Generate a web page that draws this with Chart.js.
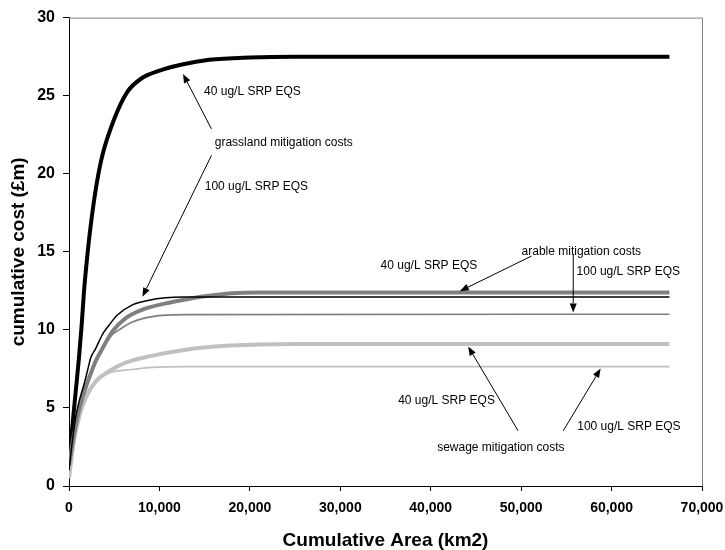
<!DOCTYPE html>
<html>
<head>
<meta charset="utf-8">
<script src="https://cdn.jsdelivr.net/npm/chart.js@4"></script>
<style>
  body { margin: 0; background: #fff; }
  canvas { display: block; }
</style>
</head>
<body>
<canvas id="costChart" width="725" height="550"></canvas>
<script>
/* Cumulative mitigation cost vs cumulative area
 * each scenario: area (km2) and cost (£m)
 */
const grass40Area = [0, 400, 750, 1100, 1400, 1650, 2000, 2300, 2700, 3100, 3700, 5000, 6400, 8000, 10000, 12500, 15500, 20000, 25000, 66400];
const grass40Cost = [1.5, 4.0, 6.1, 8.2, 10.3, 12.4, 14.6, 16.2, 18.0, 19.5, 21.2, 23.5, 25.2, 26.1, 26.6, 27.0, 27.3, 27.45, 27.5, 27.5];

const grass100Area = [0, 375, 740, 1110, 1660, 2030, 2400, 2950, 3690, 4430, 5350, 7010, 8850, 10700, 12600, 66400];
const grass100Cost = [1.0, 2.9, 4.4, 5.4, 6.5, 7.35, 8.2, 8.8, 9.7, 10.3, 10.95, 11.6, 11.9, 12.05, 12.1, 12.1];

const arable40Area = [0, 375, 930, 1480, 2210, 2950, 3690, 4800, 6270, 8120, 10700, 12900, 15000, 18000, 21000, 66400];
const arable40Cost = [1.3, 2.7, 4.4, 5.65, 6.9, 8.0, 8.8, 9.9, 10.75, 11.3, 11.7, 11.95, 12.15, 12.35, 12.4, 12.4];

const arable100Area = [0, 375, 930, 1480, 2210, 2950, 3690, 4800, 5530, 7010, 9230, 12900, 66400];
const arable100Cost = [1.3, 2.7, 4.4, 5.6, 6.85, 7.95, 8.75, 9.7, 10.0, 10.5, 10.85, 10.97, 11.0];

const sewage40Area = [0, 550, 1110, 1850, 2950, 4430, 6270, 8850, 12900, 17400, 21000, 25000, 66400];
const sewage40Cost = [0.5, 2.9, 4.4, 5.65, 6.7, 7.35, 7.9, 8.3, 8.73, 8.98, 9.06, 9.1, 9.1];

const sewage100Area = [0, 550, 1110, 1850, 2950, 4430, 7010, 9230, 12900, 66400];
const sewage100Cost = [0.5, 2.8, 4.3, 5.5, 6.6, 7.24, 7.46, 7.6, 7.65, 7.65];

const xTicksMax = 70000;
const yTicksMax = 30;

// annotation labels and arrows, in data units (area, cost)
const noteTexts = ['40 ug/L SRP EQS', 'grassland mitigation costs', '100 ug/L SRP EQS',
  'arable mitigation costs', '40 ug/L SRP EQS', '100 ug/L SRP EQS',
  '40 ug/L SRP EQS', '100 ug/L SRP EQS', 'sewage mitigation costs'];
const noteAreas = [14935, 16120, 15010, 50050, 34450, 56130, 36400, 56200, 40710];
const noteCosts = [25.23, 21.98, 19.18, 14.98, 14.14, 13.72, 5.44, 3.79, 2.47];

const arrowFrom = [[15750, 22.87], [15750, 21.17], [51160, 14.73], [55760, 14.81], [49670, 3.53], [54650, 3.53]];
const arrowTo = [[12610, 26.39], [8120, 12.12], [43220, 12.48], [55760, 11.12], [44140, 8.94], [58790, 7.52]];

function pts(xs, ys) {
  return xs.map((x, i) => ({x: x, y: ys[i]}));
}

function series(label, xs, ys, color, width) {
  return {
    label: label,
    data: pts(xs, ys),
    borderColor: color,
    backgroundColor: color,
    borderWidth: width,
    pointRadius: 0,
    fill: false,
    cubicInterpolationMode: 'monotone'
  };
}

// gray frame on top and right, like the original
const framePlugin = {
  id: 'frame',
  beforeDatasetsDraw(chart) {
    const {ctx, chartArea: a} = chart;
    ctx.save();
    ctx.strokeStyle = '#808080';
    ctx.lineWidth = 1;
    ctx.beginPath();
    ctx.moveTo(a.left, a.top + 0.5);
    ctx.lineTo(a.right + 0.5, a.top + 0.5);
    ctx.lineTo(a.right + 0.5, a.bottom);
    ctx.stroke();
    ctx.restore();
  }
};

const notesPlugin = {
  id: 'notes',
  afterDatasetsDraw(chart) {
    const ctx = chart.ctx;
    const xs = chart.scales.x;
    const ys = chart.scales.y;
    ctx.save();
    ctx.fillStyle = '#000';
    ctx.font = '12px "Liberation Sans", Arial, sans-serif';
    ctx.textAlign = 'left';
    ctx.textBaseline = 'middle';
    noteTexts.forEach((t, i) => {
      ctx.fillText(t, xs.getPixelForValue(noteAreas[i]), ys.getPixelForValue(noteCosts[i]));
    });

    ctx.strokeStyle = '#000';
    ctx.lineWidth = 1;
    arrowFrom.forEach((f, i) => {
      const x1 = xs.getPixelForValue(f[0]), y1 = ys.getPixelForValue(f[1]);
      const x2 = xs.getPixelForValue(arrowTo[i][0]), y2 = ys.getPixelForValue(arrowTo[i][1]);
      const ang = Math.atan2(y2 - y1, x2 - x1);
      const head = 9, half = 3.5;
      const bx = x2 - head * Math.cos(ang), by = y2 - head * Math.sin(ang);
      ctx.beginPath();
      ctx.moveTo(x1, y1);
      ctx.lineTo(bx, by);
      ctx.stroke();
      ctx.beginPath();
      ctx.moveTo(x2, y2);
      ctx.lineTo(bx + half * Math.sin(ang), by - half * Math.cos(ang));
      ctx.lineTo(bx - half * Math.sin(ang), by + half * Math.cos(ang));
      ctx.closePath();
      ctx.fill();
    });
    ctx.restore();
  }
};

const ctx = document.getElementById('costChart');
new Chart(ctx, {
  type: 'line',
  data: {
    datasets: [
      series('grassland 100', grass100Area, grass100Cost, '#000000', 1.5),
      series('arable 100', arable100Area, arable100Cost, '#7f7f7f', 1.7),
      series('arable 40', arable40Area, arable40Cost, '#808080', 4),
      series('sewage 100', sewage100Area, sewage100Cost, '#c0c0c0', 1.7),
      series('sewage 40', sewage40Area, sewage40Cost, '#c0c0c0', 4),
      series('grassland 40', grass40Area, grass40Cost, '#000000', 4)
    ]
  },
  options: {
    responsive: false,
    animation: false,
    layout: {
      padding: {left: 0, top: 14, right: 23, bottom: 0}
    },
    plugins: {
      legend: {display: false},
      tooltip: {enabled: false}
    },
    scales: {
      x: {
        type: 'linear',
        min: 0,
        max: xTicksMax,
        afterFit: (scale) => {
          scale.height = 64;
          scale.paddingRight = 0;
          scale.paddingLeft = 0;
        },
        ticks: {
          stepSize: 10000,
          color: '#000',
          padding: 9,
          maxRotation: 0,
          font: {family: '"Liberation Sans", Arial', size: 14, weight: 'bold'},
          callback: (v) => v.toLocaleString('en-US')
        },
        grid: {drawOnChartArea: false, tickLength: 5, color: '#000'},
        border: {color: '#000', width: 1},
        title: {
          display: true,
          text: 'Cumulative Area (km2)',
          color: '#000',
          padding: {top: 0, bottom: 0},
          font: {family: '"Liberation Sans", Arial', size: 19, weight: 'bold', lineHeight: 1}
        }
      },
      y: {
        min: 0,
        max: yTicksMax,
        afterFit: (scale) => { scale.width = 69; },
        ticks: {
          stepSize: 5,
          color: '#000',
          padding: 8,
          font: {family: '"Liberation Sans", Arial', size: 16, weight: 'bold'}
        },
        grid: {drawOnChartArea: false, tickLength: 6, color: '#000'},
        border: {color: '#000', width: 1},
        title: {
          display: true,
          text: 'cumulative cost (£m)',
          color: '#000',
          padding: {top: 9, bottom: 0},
          font: {family: '"Liberation Sans", Arial', size: 19, weight: 'bold', lineHeight: 1}
        }
      }
    }
  },
  plugins: [framePlugin, notesPlugin]
});
</script>
</body>
</html>
